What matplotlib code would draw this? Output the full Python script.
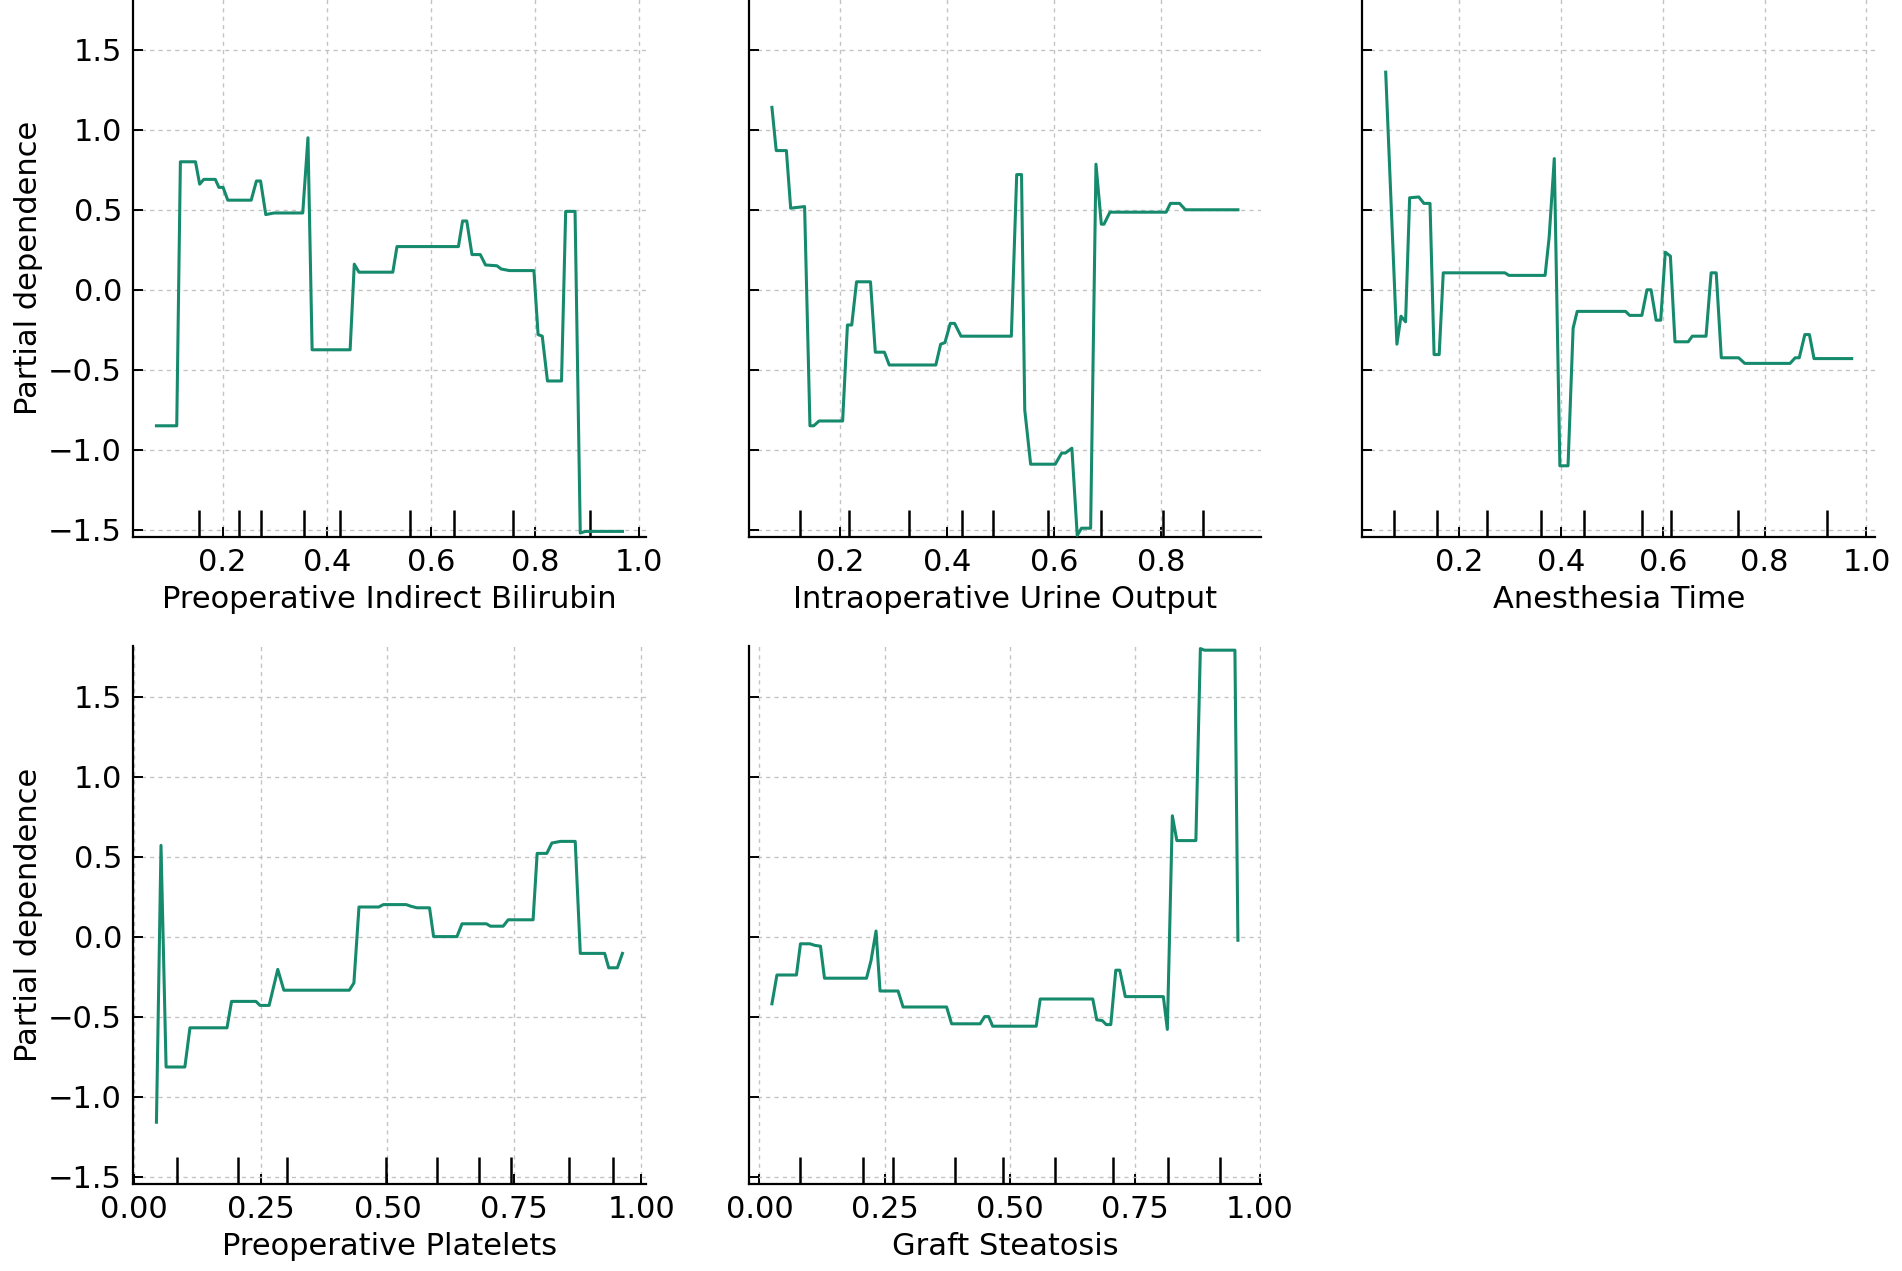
import matplotlib.pyplot as plt
from matplotlib.ticker import MultipleLocator

# feature names
features = ['Preoperative Indirect Bilirubin', 'Intraoperative Urine Output',
            'Anesthesia Time', 'Preoperative Platelets', 'Graft Steatosis']

# partial dependence curves
x1 = [0.073, 0.112, 0.119, 0.148, 0.156, 0.164, 0.186, 0.193, 0.201, 0.210, 0.255,
      0.265, 0.273, 0.283, 0.299, 0.354, 0.364, 0.372, 0.445, 0.453, 0.462, 0.527,
      0.535, 0.653, 0.661, 0.669, 0.679, 0.695, 0.705, 0.727, 0.735, 0.751, 0.798,
      0.806, 0.814, 0.824, 0.851, 0.859, 0.877, 0.887, 0.897, 0.968]
y1 = [-0.85, -0.85, 0.80, 0.80, 0.66, 0.69, 0.69, 0.64, 0.64, 0.56, 0.56,
      0.68, 0.68, 0.47, 0.48, 0.48, 0.95, -0.375, -0.375, 0.16, 0.11, 0.11,
      0.27, 0.27, 0.43, 0.43, 0.22, 0.22, 0.155, 0.15, 0.13, 0.12, 0.12,
      -0.28, -0.29, -0.57, -0.57, 0.49, 0.49, -1.52, -1.51, -1.51]

x2 = [0.073, 0.081, 0.100, 0.108, 0.134, 0.144, 0.151, 0.161, 0.205, 0.214, 0.222,
      0.231, 0.257, 0.266, 0.283, 0.292, 0.379, 0.388, 0.396, 0.406, 0.414, 0.426,
      0.520, 0.530, 0.539, 0.545, 0.556, 0.602, 0.614, 0.621, 0.633, 0.643, 0.651,
      0.668, 0.678, 0.688, 0.693, 0.704, 0.809, 0.817, 0.834, 0.845, 0.943]
y2 = [1.14, 0.87, 0.87, 0.51, 0.52, -0.85, -0.85, -0.82, -0.82, -0.22, -0.22,
      0.05, 0.05, -0.39, -0.39, -0.47, -0.47, -0.34, -0.33, -0.21, -0.21, -0.29,
      -0.29, 0.72, 0.72, -0.75, -1.09, -1.09, -1.02, -1.02, -0.99, -1.535, -1.49,
      -1.49, 0.785, 0.41, 0.41, 0.485, 0.485, 0.54, 0.54, 0.50, 0.50]

x3 = [0.056, 0.078, 0.086, 0.095, 0.103, 0.121, 0.131, 0.143, 0.151, 0.161, 0.169,
      0.290, 0.298, 0.369, 0.377, 0.387, 0.398, 0.414, 0.424, 0.432, 0.527, 0.535,
      0.559, 0.569, 0.577, 0.587, 0.596, 0.605, 0.615, 0.624, 0.650, 0.658, 0.685,
      0.695, 0.705, 0.715, 0.749, 0.761, 0.850, 0.860, 0.868, 0.879, 0.888, 0.897,
      0.971]
y3 = [1.36, -0.34, -0.165, -0.20, 0.575, 0.58, 0.54, 0.54, -0.405, -0.405, 0.106,
      0.106, 0.09, 0.09, 0.33, 0.82, -1.10, -1.10, -0.24, -0.135, -0.135, -0.16,
      -0.16, 0.0, 0.0, -0.19, -0.19, 0.235, 0.21, -0.325, -0.325, -0.29, -0.29,
      0.106, 0.106, -0.425, -0.425, -0.46, -0.46, -0.425, -0.425, -0.28, -0.28, -0.43,
      -0.43]

x4 = [0.045, 0.054, 0.064, 0.101, 0.111, 0.184, 0.193, 0.241, 0.249, 0.267, 0.284,
      0.296, 0.425, 0.434, 0.444, 0.483, 0.492, 0.537, 0.546, 0.558, 0.583, 0.591,
      0.637, 0.647, 0.695, 0.703, 0.728, 0.738, 0.787, 0.795, 0.814, 0.824, 0.841,
      0.870, 0.880, 0.928, 0.936, 0.953, 0.963]
y4 = [-1.16, 0.57, -0.815, -0.815, -0.57, -0.57, -0.405, -0.405, -0.43, -0.43, -0.205,
      -0.335, -0.335, -0.29, 0.185, 0.185, 0.20, 0.20, 0.19, 0.18, 0.18, 0.0,
      0.0, 0.08, 0.08, 0.065, 0.065, 0.105, 0.105, 0.52, 0.52, 0.585, 0.595,
      0.595, -0.105, -0.105, -0.195, -0.195, -0.105]

x5 = [0.025, 0.035, 0.074, 0.082, 0.101, 0.111, 0.122, 0.130, 0.214, 0.223, 0.233,
      0.241, 0.277, 0.287, 0.374, 0.384, 0.441, 0.450, 0.458, 0.466, 0.553, 0.561,
      0.666, 0.674, 0.685, 0.693, 0.702, 0.712, 0.720, 0.731, 0.807, 0.815, 0.825,
      0.834, 0.872, 0.881, 0.889, 0.950, 0.956]
y5 = [-0.42, -0.24, -0.24, -0.045, -0.045, -0.055, -0.06, -0.26, -0.26, -0.15, 0.035,
      -0.34, -0.34, -0.44, -0.44, -0.545, -0.545, -0.50, -0.50, -0.56, -0.56, -0.39,
      -0.39, -0.52, -0.525, -0.55, -0.55, -0.21, -0.21, -0.375, -0.375, -0.58, 0.755,
      0.60, 0.60, 1.80, 1.79, 1.79, -0.023]

# deciles of each feature (rug marks at the bottom)
d1 = [0.154, 0.231, 0.273, 0.357, 0.425, 0.560, 0.644, 0.757, 0.905]
d2 = [0.126, 0.216, 0.328, 0.428, 0.485, 0.589, 0.688, 0.804, 0.878]
d3 = [0.073, 0.156, 0.255, 0.360, 0.445, 0.560, 0.616, 0.747, 0.923]
d4 = [0.085, 0.205, 0.302, 0.498, 0.598, 0.680, 0.743, 0.857, 0.944]
d5 = [0.082, 0.206, 0.266, 0.391, 0.487, 0.590, 0.706, 0.817, 0.920]

xs = [x1, x2, x3, x4, x5]
ys = [y1, y2, y3, y4, y5]
decs = [d1, d2, d3, d4, d5]

line_color = '#168a6c'
plt.rcParams['font.family'] = 'DejaVu Sans'
plt.rcParams['font.size'] = 22

fig = plt.figure(figsize=(19.02, 12.71), dpi=100)

lefts = [0.0700, 0.3936, 0.7163]
bottoms = [0.5775, 0.0686]
w, h = 0.2695, 0.4230

for i in range(5):
    row, col = divmod(i, 3)
    ax = fig.add_axes([lefts[col], bottoms[row], w, h])
    ax.plot(xs[i], ys[i], color=line_color, lw=2.2, zorder=3)
    xl = ax.get_xlim()
    ax.vlines(decs[i], 0, 0.05, transform=ax.get_xaxis_transform(),
              color='black', lw=1.8, zorder=2)
    ax.set_xlim(xl)
    ax.set_ylim(-1.545, 1.815)

    ax.xaxis.set_major_locator(MultipleLocator(0.2 if row == 0 else 0.25))
    ax.yaxis.set_major_locator(MultipleLocator(0.5))
    ax.grid(True, color='#c4c4c4', linestyle=(0, (3, 3)), lw=1.0)
    ax.set_axisbelow(True)

    for s in ['top', 'right']:
        ax.spines[s].set_visible(False)
    for s in ['left', 'bottom']:
        ax.spines[s].set_linewidth(1.6)
    ax.tick_params(direction='in', length=7, width=1.4, labelsize=22, pad=8)

    ax.set_xlabel(features[i], fontsize=22, labelpad=6)
    if col == 0:
        ax.set_ylabel('Partial dependence', fontsize=22)
    else:
        ax.tick_params(labelleft=False)

fig.savefig('out.png', dpi=100)
